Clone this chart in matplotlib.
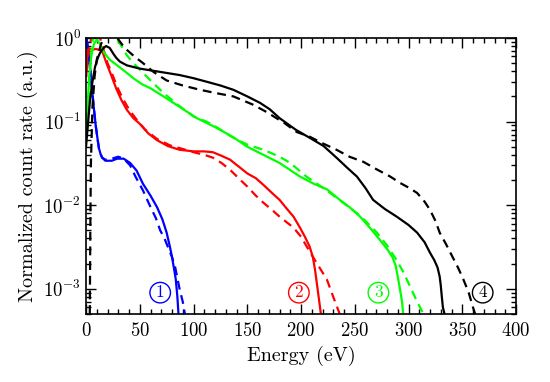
import matplotlib
matplotlib.use("Agg")
import matplotlib.pyplot as plt
from matplotlib.ticker import MultipleLocator, LogLocator, NullFormatter

plt.rcParams['font.family'] = 'cmr10'
plt.rcParams['mathtext.fontset'] = 'cm'
plt.rcParams['axes.formatter.use_mathtext'] = True

# curve 1 (blue)
e1_solid = [0.3, 1, 2, 4, 5.5, 7.4, 9, 10.5, 12, 13.5, 15, 18, 24, 29, 35, 41, 47, 53, 60, 66, 71, 75, 78, 80, 82, 83.5, 85, 86]
y1_solid = [1.0, 0.9, 0.7, 0.4, 0.25, 0.14, 0.09, 0.065, 0.048, 0.041, 0.037, 0.034, 0.034, 0.036, 0.036, 0.032, 0.026, 0.018, 0.013, 0.0095, 0.0068, 0.0047, 0.0032, 0.0024, 0.0017, 0.0013, 0.0008, 0.0005]
e1_dash = [0.3, 1, 2, 4, 5.5, 7.4, 9, 10.5, 12, 13.5, 15, 18, 24, 30, 35, 41, 46, 53, 60, 65, 69, 73, 76, 80, 83, 87, 90, 92]
y1_dash = [1.0, 0.9, 0.7, 0.4, 0.25, 0.14, 0.09, 0.065, 0.048, 0.041, 0.037, 0.035, 0.036, 0.038, 0.036, 0.03, 0.022, 0.015, 0.0095, 0.007, 0.005, 0.004, 0.0032, 0.0024, 0.0018, 0.001, 0.0007, 0.0005]

# curve 2 (red)
e2_solid = [0.3, 1.5, 3, 6, 9, 12, 15, 19, 23, 28, 33, 38, 44, 50, 58, 66, 76, 87, 100, 110, 118, 126, 134, 142, 150, 158, 165, 173, 180, 187, 193, 199, 204, 208, 211, 213, 215, 217, 218.5]
y2_solid = [0.35, 0.7, 0.75, 0.72, 0.74, 0.72, 0.7, 0.5, 0.37, 0.25, 0.18, 0.138, 0.11, 0.094, 0.072, 0.06, 0.051, 0.046, 0.044, 0.044, 0.043, 0.039, 0.035, 0.029, 0.024, 0.021, 0.0175, 0.014, 0.0116, 0.009, 0.0073, 0.0054, 0.0041, 0.0032, 0.0024, 0.0017, 0.0011, 0.0007, 0.0005]
e2_dash = [0.5, 3, 6, 10, 13, 16, 20, 24, 29, 34, 40, 46, 55, 66, 78, 90, 100, 110, 118, 126, 134, 142, 150, 158, 165, 173, 180, 187, 193, 200, 208, 216, 224, 230, 236]
y2_dash = [0.4, 0.8, 1.1, 1.2, 1.0, 0.75, 0.5, 0.38, 0.26, 0.19, 0.14, 0.11, 0.08, 0.062, 0.052, 0.047, 0.043, 0.04, 0.037, 0.032, 0.0265, 0.021, 0.0167, 0.013, 0.0107, 0.0088, 0.0073, 0.0062, 0.0054, 0.0042, 0.0028, 0.0019, 0.0013, 0.0008, 0.0005]

# curve 3 (green)
e3_solid = [0, 1.5, 3, 5, 7.4, 10, 13, 17, 22, 29, 36, 44, 52, 60, 72, 87, 103, 120, 137, 150, 165, 180, 199, 212, 224, 236, 245, 255, 265, 273, 280, 285, 288, 290, 292, 294, 295]
y3_solid = [0.07, 0.15, 0.35, 0.62, 0.85, 0.95, 0.85, 0.66, 0.55, 0.47, 0.4, 0.33, 0.28, 0.25, 0.2, 0.15, 0.11, 0.086, 0.065, 0.05, 0.04, 0.032, 0.022, 0.018, 0.0155, 0.0116, 0.0095, 0.0073, 0.0052, 0.0039, 0.003, 0.0024, 0.0019, 0.0014, 0.001, 0.0007, 0.0005]
e3_dash = [1, 3, 5, 7, 12, 20, 27, 33, 38, 44, 50, 60, 72, 85, 100, 112, 120, 137, 150, 165, 180, 190, 205, 224, 240, 255, 270, 280, 289, 295, 301, 308, 314]
y3_dash = [0.08, 0.3, 0.7, 1.1, 1.4, 1.4, 1.05, 0.8, 0.62, 0.5, 0.42, 0.31, 0.22, 0.16, 0.115, 0.1, 0.088, 0.064, 0.053, 0.046, 0.038, 0.032, 0.022, 0.015, 0.0105, 0.0075, 0.0048, 0.0033, 0.0022, 0.0016, 0.0011, 0.0007, 0.0005]

# curve 4 (black)
e4_solid = [0, 2, 3.7, 6, 8.4, 11, 13, 16, 18.6, 22, 25, 28, 31.6, 38, 50, 65, 87, 100, 112, 125, 137, 150, 162, 171, 180, 195, 208, 221, 233, 243, 252, 260, 267, 278, 289, 300, 308, 315, 320, 324, 327, 329, 330, 331, 332, 333.5]
y4_solid = [0.05, 0.1, 0.18, 0.3, 0.45, 0.58, 0.66, 0.75, 0.8, 0.76, 0.66, 0.58, 0.52, 0.47, 0.43, 0.4, 0.36, 0.33, 0.3, 0.27, 0.24, 0.2, 0.167, 0.14, 0.11, 0.08, 0.064, 0.051, 0.037, 0.028, 0.022, 0.016, 0.0116, 0.009, 0.0073, 0.0058, 0.0047, 0.0036, 0.0027, 0.0022, 0.0018, 0.0014, 0.0011, 0.0008, 0.0006, 0.0005]
e4_dash = [3.5, 4, 4.5, 6, 8, 10, 14, 18, 24, 29, 34, 38, 45, 53, 63, 75, 90, 106, 120, 137, 155, 168, 185, 196, 208, 220, 233, 245, 258, 270, 283, 292, 301, 308, 315, 320, 325, 329, 335, 341, 346, 351, 356, 360, 362]
y4_dash = [0.0005, 0.005, 0.03, 0.15, 0.35, 0.55, 0.85, 1.05, 1.1, 1.0, 0.82, 0.72, 0.6, 0.5, 0.39, 0.31, 0.27, 0.24, 0.22, 0.2, 0.16, 0.13, 0.095, 0.075, 0.066, 0.055, 0.046, 0.038, 0.033, 0.027, 0.022, 0.0185, 0.016, 0.014, 0.011, 0.0088, 0.0065, 0.0047, 0.0034, 0.0024, 0.0018, 0.0013, 0.0009, 0.0006, 0.0005]

curve_labels = ['1', '2', '3', '4']
label_energy = [69, 198, 272, 369]
label_y = 0.0009
colors = ['#0000ff', '#ff0000', '#00ff00', '#000000']

fig = plt.figure(figsize=(5.5, 3.82), dpi=100)
ax = fig.add_axes([0.1564, 0.178, 0.7818, 0.7227])

solids = [(e1_solid, y1_solid), (e2_solid, y2_solid), (e3_solid, y3_solid), (e4_solid, y4_solid)]
dashes = [(e1_dash, y1_dash), (e2_dash, y2_dash), (e3_dash, y3_dash), (e4_dash, y4_dash)]
for (es, ys), (ed, yd), c in zip(solids, dashes, colors):
    ax.plot(es, ys, color=c, lw=1.6, solid_joinstyle='round')
    ax.plot(ed, yd, color=c, lw=1.6, dashes=(4, 2.6))

for lab, e, c in zip(curve_labels, label_energy, colors):
    ax.text(e, label_y, lab, color=c, fontsize=12.5, ha='center', va='center',
            bbox=dict(boxstyle='circle,pad=0.15', fc='none', ec=c, lw=1.0))

ax.set_yscale('log')
ax.set_xlim(0, 400)
ax.set_ylim(5e-4, 1)
ax.xaxis.set_major_locator(MultipleLocator(50))
ax.xaxis.set_minor_locator(MultipleLocator(10))
ax.yaxis.set_major_locator(LogLocator(base=10, numticks=10))
ax.yaxis.set_minor_locator(LogLocator(base=10, subs=range(2, 10), numticks=20))
ax.yaxis.set_minor_formatter(NullFormatter())
ax.tick_params(which='both', direction='in', top=True, right=True, labelsize=13.5, width=1.0)
ax.tick_params(axis='x', which='major', pad=6)
ax.tick_params(which='major', length=7)
ax.tick_params(which='minor', length=3.5)
for s in ax.spines.values():
    s.set_linewidth(1.2)

ax.set_xlabel('Energy (eV)', fontsize=14.5, labelpad=4)
ax.set_ylabel('Normalized count rate (a.u.)', fontsize=14.5, labelpad=4)

fig.savefig('out.png', dpi=100)
